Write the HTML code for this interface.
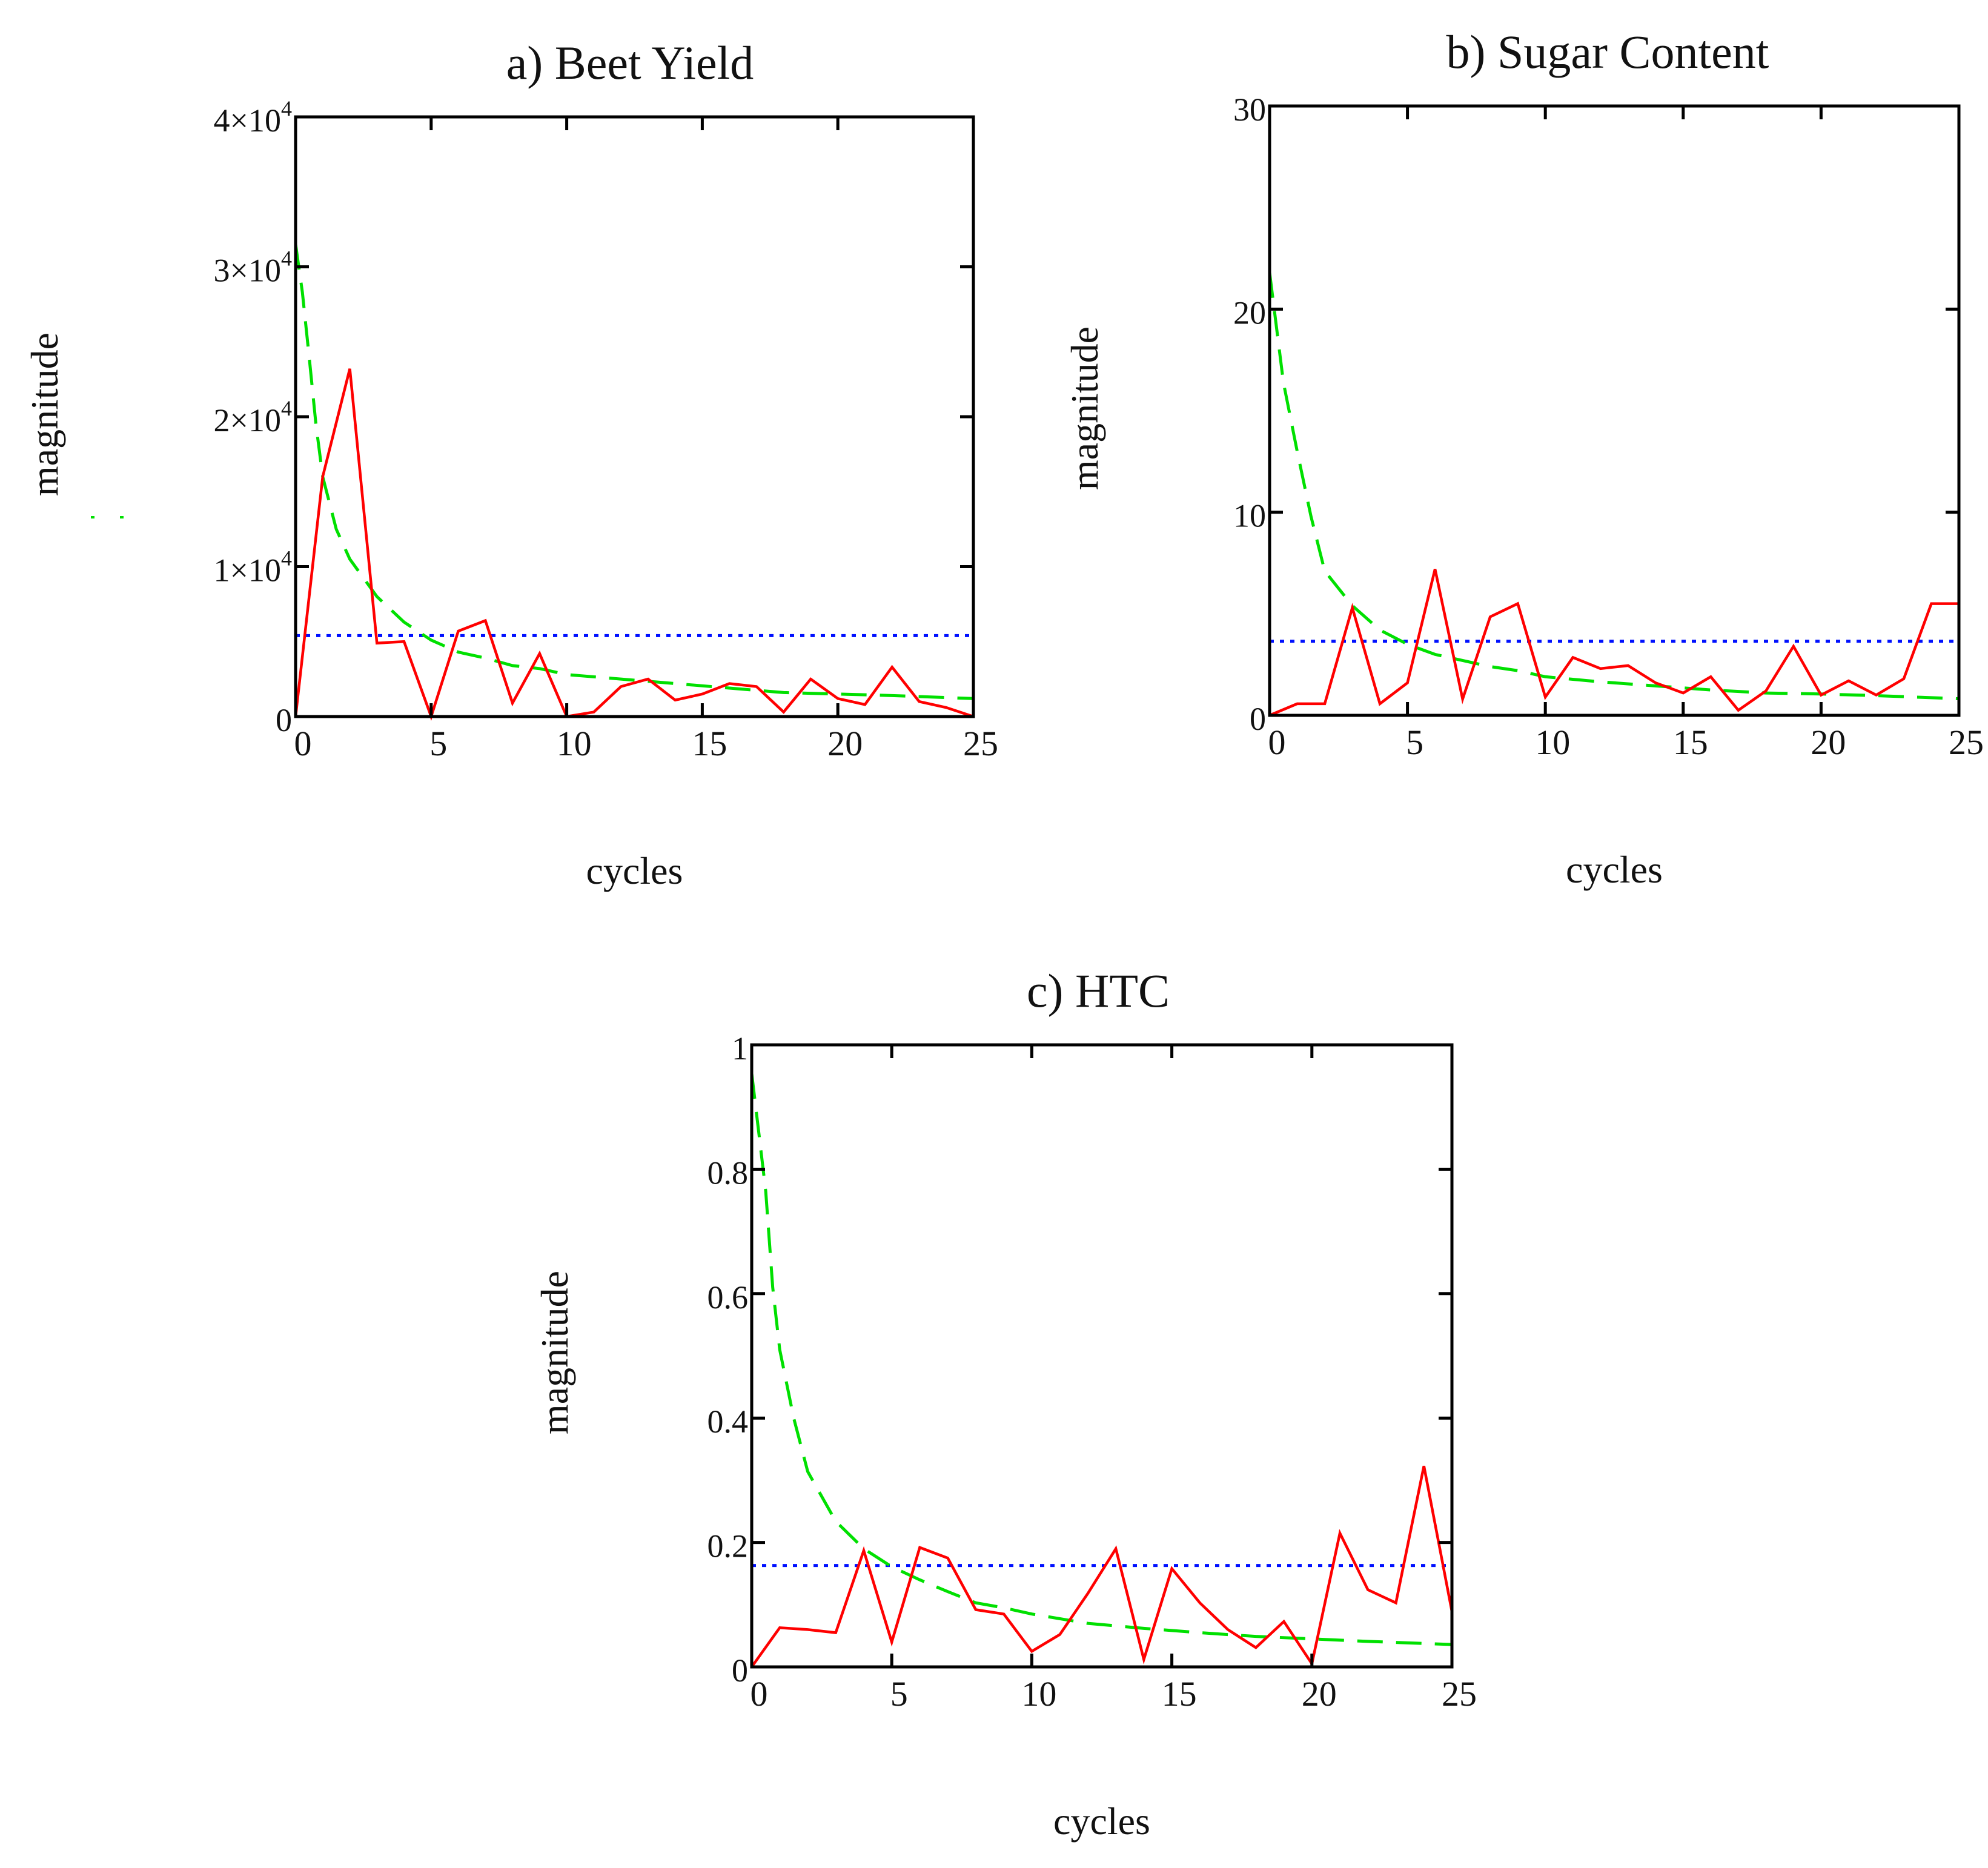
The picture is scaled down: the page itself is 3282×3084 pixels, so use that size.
<!DOCTYPE html>
<html><head><meta charset="utf-8">
<style>
html,body{margin:0;padding:0;background:#fff;}
svg{display:block;}
text{font-family:"Liberation Serif",serif;fill:#111;}
</style></head>
<body>
<svg id="fig" width="3282" height="3084" viewBox="0 0 3282 3084" xmlns="http://www.w3.org/2000/svg">
<rect width="3282" height="3084" fill="#fff"/>
<line x1="150" y1="854" x2="156" y2="854" stroke="#00e000" stroke-width="4"/>
<line x1="198" y1="854" x2="204" y2="854" stroke="#00e000" stroke-width="4"/>
</svg>
<script>
// ---- Panel a) Beet Yield (values in units of 1e4) ----
const xCycles = [0,1,2,3,4,5,6,7,8,9,10,11,12,13,14,15,16,17,18,19,20,21,22,23,24,25];
const beetRed = [0,1.6,2.32,0.49,0.5,0,0.57,0.64,0.09,0.42,0,0.03,0.2,0.25,0.11,0.15,0.22,0.2,0.03,0.25,0.12,0.08,0.33,0.1,0.06,0];
const beetGreenX = [0,0.25,0.5,0.75,1,1.5,2,3,4,5,6,7,8,9,10,12,14,16,18,20,22,25];
const beetGreen = [3.15,2.83,2.4,1.95,1.6,1.25,1.05,0.8,0.63,0.51,0.43,0.39,0.34,0.32,0.28,0.25,0.22,0.19,0.16,0.15,0.14,0.12];
const beetBlue = 0.54;
const beetYTicks = [0,1,2,3,4];
// ---- Panel b) Sugar Content ----
const sugarRed = [0,0.57,0.57,5.3,0.57,1.6,7.2,0.8,4.85,5.5,0.9,2.85,2.3,2.45,1.6,1.1,1.9,0.25,1.2,3.4,1.0,1.7,1.0,1.8,5.5,5.5];
const sugarGreenX = [0,0.25,0.5,1,1.5,2,3,4,5,6,7,8,9,10,12,14,16,18,20,22,25];
const sugarGreen = [21.8,19.1,16.4,13,9.8,7.1,5.4,4.2,3.5,3.0,2.7,2.4,2.2,1.9,1.65,1.45,1.25,1.1,1.05,0.97,0.82];
const sugarBlue = 3.65;
const sugarYTicks = [0,10,20,30];
// ---- Panel c) HTC ----
const htcRed = [0,0.063,0.06,0.055,0.187,0.04,0.192,0.175,0.092,0.085,0.025,0.052,0.118,0.19,0.012,0.158,0.103,0.06,0.031,0.073,0.005,0.215,0.124,0.103,0.323,0.089];
const htcGreenX = [0,0.25,0.5,0.75,1,1.5,2,3,4,5,6,7,8,9,10,12,14,16,18,20,22,25];
const htcGreen = [0.954,0.86,0.765,0.61,0.51,0.40,0.314,0.234,0.19,0.161,0.14,0.121,0.103,0.095,0.085,0.07,0.062,0.055,0.049,0.045,0.041,0.036];
const htcBlue = 0.163;
const htcYTicks = [0,0.2,0.4,0.6,0.8,1];
const xTicks = [0,5,10,15,20,25];

const NS="http://www.w3.org/2000/svg";
const svg=document.getElementById('fig');
function mk(tag,attrs,parent){const e=document.createElementNS(NS,tag);for(const k in attrs)e.setAttribute(k,attrs[k]);(parent||svg).appendChild(e);return e;}

function panel(cfg){
  const g=mk('g',{});
  
  
  const {L,R,T,B,ymax}=cfg;
  const sx=v=>L+(v/25)*(R-L);
  const sy=v=>B-(v/ymax)*(B-T);
  // title
  const t=mk('text',{x:cfg.tx,y:cfg.ty,'text-anchor':'middle','font-size':78},g);
  t.textContent=cfg.title;
  
  
  // y label
  const yl=mk('text',{x:0,y:0,'text-anchor':'middle','font-size':64,transform:`translate(${cfg.ylx},${cfg.yly}) rotate(-90)`},g);
  yl.textContent='magnitude';
  
  
  const xl=mk('text',{x:(L+R)/2,y:B+276,'text-anchor':'middle','font-size':64},g);
  xl.textContent='cycles';
  
  
  // data series
  const blue=mk('line',{x1:L,y1:sy(cfg.blue),x2:R,y2:sy(cfg.blue),stroke:'#0010ff','stroke-width':5,'stroke-dasharray':'7 10'},g);
  
  
  const gp=cfg.gx.map((x,i)=>sx(x)+','+sy(cfg.g[i])).join(' ');
  const green=mk('polyline',{points:gp,fill:'none',stroke:'#00e000','stroke-width':5,'stroke-dasharray':'42 22'},g);
  
  
  const rp=xCycles.map((x,i)=>sx(x)+','+sy(cfg.red[i])).join(' ');
  const red=mk('polyline',{points:rp,fill:'none',stroke:'#ff0000','stroke-width':4.5,'stroke-linejoin':'miter'},g);
  
  
  // frame
  const fr=mk('rect',{x:L,y:T,width:R-L,height:B-T,fill:'none',stroke:'#000','stroke-width':5},g);
  
  
  const tl=22;
  xTicks.forEach(v=>{
    const x=sx(v);
    if(v>0&&v<25){
      mk('line',{x1:x,y1:T,x2:x,y2:T+tl,stroke:'#000','stroke-width':5},g);
      mk('line',{x1:x,y1:B,x2:x,y2:B-tl,stroke:'#000','stroke-width':5},g);
    }
    const lb=mk('text',{x:x+12,y:B+64,'text-anchor':'middle','font-size':58},g);
    lb.textContent=String(v);
    
    
  });
  cfg.yt.forEach(v=>{
    const y=sy(v);
    if(v>0&&v<ymax){
      mk('line',{x1:R,y1:y,x2:R-tl,y2:y,stroke:'#000','stroke-width':5},g);
      mk('line',{x1:L,y1:y,x2:L+tl,y2:y,stroke:'#000','stroke-width':5},g);
    }
    const lb=mk('text',{x:L-6,y:y+24,'text-anchor':'end','font-size':54},g);
    
    
    if(cfg.sci && v>0){
      lb.textContent=v+'\u00d710';
      const s=mk('tspan',{dy:-26,'font-size':36},lb);
      s.textContent='4';
    } else lb.textContent=String(v);
  });
}
panel({id:'beet-yield',title:'a) Beet Yield',tx:1040,ty:130,L:488,R:1607,T:193,B:1183,ymax:4,red:beetRed,gx:beetGreenX,g:beetGreen,blue:beetBlue,yt:beetYTicks,sci:true,ylx:95,yly:684});
panel({id:'sugar-content',title:'b) Sugar Content',tx:2654,ty:112,L:2096,R:3234,T:175,B:1181,ymax:30,red:sugarRed,gx:sugarGreenX,g:sugarGreen,blue:sugarBlue,yt:sugarYTicks,sci:false,ylx:1812,yly:674});
panel({id:'htc',title:'c) HTC',tx:1813,ty:1662,L:1241,R:2397,T:1725,B:2752,ymax:1,red:htcRed,gx:htcGreenX,g:htcGreen,blue:htcBlue,yt:htcYTicks,sci:false,ylx:937,yly:2233});
</script>
</body></html>
